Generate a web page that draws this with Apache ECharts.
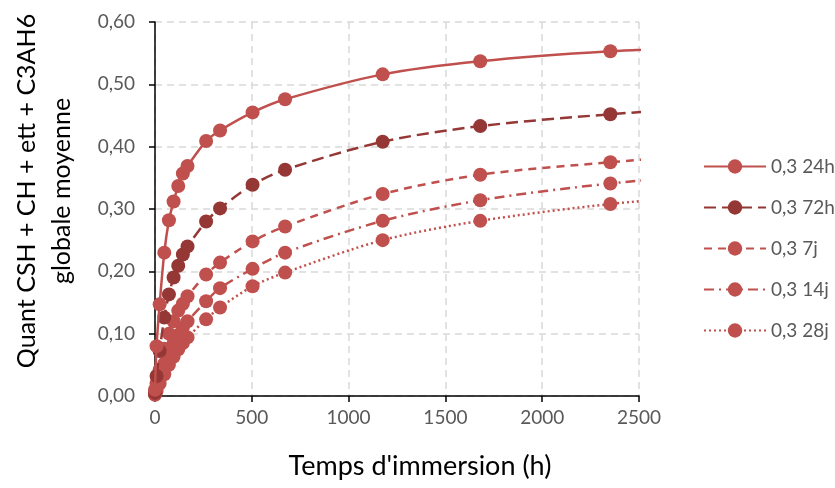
<!DOCTYPE html>
<html><head><meta charset="utf-8">
<script src="https://cdn.jsdelivr.net/npm/echarts@6/dist/echarts.min.js"></script>
<style>html,body{margin:0;padding:0;background:#fff}#c{width:835px;height:488px}</style>
</head><body><div id="c"></div>
<script>
const hours = [0, 8, 24, 48, 72, 96, 120, 144, 168, 264, 336, 504, 672, 1176, 1680, 2352, 3024];
const seriesNames = ["0,3 24h", "0,3 72h", "0,3 7j", "0,3 14j", "0,3 28j"];
const s24h = [0.010, 0.080, 0.147, 0.230, 0.282, 0.312, 0.337, 0.357, 0.369, 0.409, 0.426, 0.455, 0.476, 0.516, 0.537, 0.553, 0.562];
const s72h = [0.005, 0.032, 0.072, 0.126, 0.163, 0.190, 0.209, 0.227, 0.240, 0.280, 0.301, 0.339, 0.363, 0.408, 0.433, 0.452, 0.466];
const s7j  = [0.004, 0.020, 0.042, 0.076, 0.100, 0.120, 0.137, 0.148, 0.160, 0.195, 0.214, 0.248, 0.272, 0.324, 0.355, 0.375, 0.392];
const s14j = [0.003, 0.012, 0.030, 0.052, 0.070, 0.085, 0.098, 0.110, 0.120, 0.152, 0.173, 0.204, 0.230, 0.281, 0.314, 0.341, 0.358];
const s28j = [0.002, 0.008, 0.020, 0.035, 0.050, 0.063, 0.075, 0.085, 0.094, 0.123, 0.142, 0.176, 0.198, 0.250, 0.281, 0.308, 0.326];
const xTicks = [0, 500, 1000, 1500, 2000, 2500];
const yTicks = [0, 0.1, 0.2, 0.3, 0.4, 0.5, 0.6];

const allValues = [s24h, s72h, s7j, s14j, s28j];
const colors = ["#C0504D", "#953735", "#C0504D", "#C0504D", "#C0504D"];
const dashes = ["solid", [12, 6], [8, 6], [10, 5, 2, 5], [2, 3]];
const font = "Lato, 'Open Sans', sans-serif";

const chart = echarts.init(document.getElementById('c'), null, {renderer: 'canvas'});
chart.setOption({
  animation: false,
  backgroundColor: '#fff',
  grid: {left: 155, right: 196, top: 22, bottom: 92, containLabel: false},
  legend: {
    orient: 'vertical', left: 698, top: 152, itemGap: 22, itemWidth: 62, itemHeight: 18,
    textStyle: {fontFamily: font, fontSize: 19, color: '#595959'},
    data: seriesNames
  },
  xAxis: {
    type: 'value', min: xTicks[0], max: xTicks[xTicks.length - 1], interval: 500,
    name: "Temps d'immersion (h)", nameLocation: 'middle', nameGap: 57,
    nameTextStyle: {fontFamily: font, fontSize: 27, color: '#000', padding: [0, 0, 0, 46]},
    axisLine: {lineStyle: {color: '#000', width: 1.5}},
    axisTick: {show: true, length: 6, lineStyle: {color: '#000', width: 1.5}},
    axisLabel: {fontFamily: font, fontSize: 19, color: '#595959', margin: 12,
      formatter: v => String(v)},
    splitLine: {show: true, lineStyle: {color: '#d9d9d9', type: [7, 5], width: 1.5}}
  },
  yAxis: {
    type: 'value', min: yTicks[0], max: yTicks[yTicks.length - 1], interval: 0.1,
    name: "Quant CSH + CH + ett + C3AH6\nglobale moyenne", nameLocation: 'middle', nameGap: 76,
    nameTextStyle: {fontFamily: font, fontSize: 25, color: '#000', lineHeight: 35, padding: [0, 0, 0, 36]},
    axisLine: {show: true, lineStyle: {color: '#000', width: 1.5}},
    axisTick: {show: true, length: 6, lineStyle: {color: '#000', width: 1.5}},
    axisLabel: {fontFamily: font, fontSize: 19, color: '#595959', margin: 20,
      formatter: v => v.toFixed(2).replace('.', ',')},
    splitLine: {show: true, lineStyle: {color: '#d9d9d9', type: [7, 5], width: 1.5}}
  },
  series: seriesNames.map((n, i) => ({
    name: n, type: 'line', smooth: 0.3, clip: true,
    data: hours.map((h, j) => [h, allValues[i][j]]),
    symbol: 'circle', symbolSize: 14,
    itemStyle: {color: colors[i]},
    lineStyle: {color: colors[i], width: 2.5, type: dashes[i]},
    z: 10 - i
  }))
});
</script></body></html>
